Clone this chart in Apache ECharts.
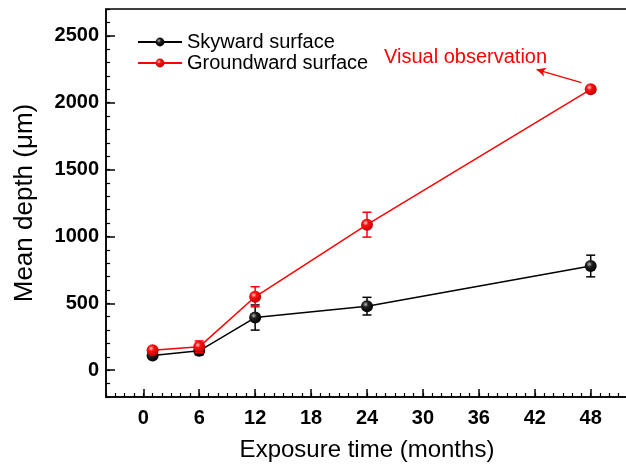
<!DOCTYPE html>
<html>
<head>
<meta charset="utf-8">
<script src="https://cdn.jsdelivr.net/npm/echarts@6/dist/echarts.min.js"></script>
<style>
  html, body { margin: 0; padding: 0; background: #fff; }
  #chart { width: 626px; height: 464px; }
</style>
</head>
<body>
<div id="chart"></div>
<script>
// exposure time (months)
const months = [1, 6, 12, 24, 48];
// mean depth (um) and error (+/-)
const skywardDepth = [110, 145, 394, 479, 779];
const skywardErr = [10, 30, 94, 66, 81];
const groundwardDepth = [150, 175, 549, 1088, 2100];
const groundwardErr = [20, 44, 75, 93, 0];
// tick labels
const xTicks = [0, 6, 12, 18, 24, 30, 36, 42, 48];
const yTicks = [0, 500, 1000, 1500, 2000, 2500];
const xMinorTicks = [];
for (let v = -4; v <= 52; v++) xMinorTicks.push(v);
const yMinorTicks = [];
for (let v = -200; v <= 2700; v += 100) yMinorTicks.push(v);

const FONT = 'Liberation Sans, Arial, sans-serif';

function sphere(light, mid, dark) {
    return new echarts.graphic.RadialGradient(0.38, 0.35, 0.65, [
        { offset: 0, color: light },
        { offset: 0.35, color: mid },
        { offset: 1, color: dark }
    ]);
}

function errorData(xs, ys, es) {
    return xs.map((x, i) => [x, ys[i] - es[i], ys[i] + es[i]]);
}

function renderError(color) {
    return function (params, api) {
        if (api.value(2) === api.value(1)) return null;
        const lo = api.coord([api.value(0), api.value(1)]);
        const hi = api.coord([api.value(0), api.value(2)]);
        const w = 4.5;
        const style = { stroke: color, lineWidth: 1.5 };
        return {
            type: 'group',
            children: [
                { type: 'line', shape: { x1: lo[0], y1: lo[1], x2: hi[0], y2: hi[1] }, style: style },
                { type: 'line', shape: { x1: lo[0] - w, y1: lo[1], x2: lo[0] + w, y2: lo[1] }, style: style },
                { type: 'line', shape: { x1: hi[0] - w, y1: hi[1], x2: hi[0] + w, y2: hi[1] }, style: style }
            ]
        };
    };
}

let myChart = echarts.init(document.getElementById('chart'));

let option = {
    animation: false,
    textStyle: { fontFamily: FONT },
    grid: {
        left: 106, top: 9, right: -2, bottom: 67,
        outerBoundsMode: 'none',
        containLabel: false,
        show: true, borderColor: '#000', borderWidth: 1.5
    },
    legend: {
        orient: 'vertical',
        left: 132, top: 27,
        itemWidth: 44, itemHeight: 11, itemGap: 1,
        textStyle: { fontSize: 20, color: '#000', fontFamily: FONT },
        data: ['Skyward surface', 'Groundward surface']
    },
    xAxis: [
        {
            type: 'value', min: -4, max: 52,
            name: 'Exposure time (months)', nameLocation: 'middle', nameGap: 41,
            nameTextStyle: { fontSize: 24, color: '#000', fontFamily: FONT },
            axisLine: { onZero: false, lineStyle: { color: '#000', width: 1.5 } },
            axisTick: { inside: true, length: 8, customValues: xTicks, lineStyle: { color: '#000', width: 1.5 } },
            axisLabel: { customValues: xTicks, formatter: v => String(v), fontSize: 20, fontWeight: 'bold', color: '#000', margin: 11, fontFamily: FONT },
            splitLine: { show: false }
        },
        {
            type: 'value', min: -4, max: 52, position: 'bottom',
            axisLine: { show: false, onZero: false },
            axisTick: { inside: true, length: 4, customValues: xMinorTicks, lineStyle: { color: '#000', width: 1.2 } },
            axisLabel: { show: false },
            splitLine: { show: false }
        }
    ],
    yAxis: [
        {
            type: 'value', min: -200, max: 2700,
            name: 'Mean depth (\u03bcm)', nameLocation: 'middle', nameGap: 68,
            nameTextStyle: { fontSize: 26, color: '#000', fontFamily: FONT },
            axisLine: { show: true, onZero: false, lineStyle: { color: '#000', width: 1.5 } },
            axisTick: { show: true, inside: true, length: 9, customValues: yTicks, lineStyle: { color: '#000', width: 1.5 } },
            axisLabel: { customValues: yTicks, formatter: v => String(v), fontSize: 20, fontWeight: 'bold', color: '#000', margin: 7, fontFamily: FONT },
            splitLine: { show: false }
        },
        {
            type: 'value', min: -200, max: 2700, position: 'left',
            axisLine: { show: false, onZero: false },
            axisTick: { show: true, inside: true, length: 4, customValues: yMinorTicks, lineStyle: { color: '#000', width: 1.2 } },
            axisLabel: { show: false },
            splitLine: { show: false }
        }
    ],
    series: [
        {
            name: 'Skyward surface',
            type: 'line',
            data: months.map((m, i) => [m, skywardDepth[i]]),
            symbol: 'circle', symbolSize: 12,
            lineStyle: { color: '#000', width: 1.5 },
            itemStyle: { color: sphere('#bbbbbb', '#222', '#000') },
            z: 3
        },
        {
            type: 'custom',
            data: errorData(months, skywardDepth, skywardErr),
            renderItem: renderError('#000'),
            encode: { x: 0, y: [1, 2] },
            z: 2
        },
        {
            name: 'Groundward surface',
            type: 'line',
            data: months.map((m, i) => [m, groundwardDepth[i]]),
            symbol: 'circle', symbolSize: 12,
            lineStyle: { color: '#ff0000', width: 1.5 },
            itemStyle: { color: sphere('#ffd0d0', '#ff1010', '#c00000') },
            z: 5,
            markLine: {
                silent: true,
                symbol: ['none', 'arrow'],
                symbolSize: [7, 9],
                label: { show: false },
                lineStyle: { color: '#ff0000', width: 1.2, type: 'solid' },
                data: [[{ coord: [47.0, 2150] }, { coord: [42.2, 2247] }]]
            }
        },
        {
            type: 'custom',
            data: errorData(months, groundwardDepth, groundwardErr),
            renderItem: renderError('#ff0000'),
            encode: { x: 0, y: [1, 2] },
            z: 4
        }
    ],
    graphic: [
        {
            type: 'text', left: 384, top: 47,
            style: { text: 'Visual observation', fill: '#ff0000', fontSize: 20, fontFamily: FONT }
        }
    ]
};
option && myChart.setOption(option);
</script>
</body>
</html>
